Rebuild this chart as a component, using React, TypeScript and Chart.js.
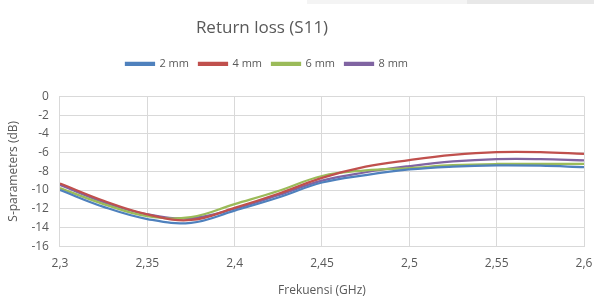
import React, { useEffect, useRef } from "react";
import { Chart, registerables } from "chart.js";

Chart.register(...registerables);

const freqs = [2.3, 2.325, 2.35, 2.375, 2.4, 2.425, 2.45, 2.475, 2.5, 2.525, 2.55, 2.575, 2.6];
const s2mm = [-10.0, -11.8, -13.1, -13.5, -12.2, -10.8, -9.2, -8.4, -7.8, -7.5, -7.37, -7.4, -7.55];
const s4mm = [-9.3, -11.15, -12.6, -13.2, -11.9, -10.4, -8.7, -7.5, -6.8, -6.25, -5.95, -5.95, -6.14];
const s6mm = [-9.8, -11.5, -12.8, -12.9, -11.5, -10.1, -8.5, -7.9, -7.65, -7.35, -7.22, -7.2, -7.22];
const s8mm = [-9.45, -11.3, -12.6, -13.0, -12.0, -10.55, -9.0, -8.1, -7.45, -6.95, -6.7, -6.7, -6.84];
const seriesLabels = ["2 mm", "4 mm", "6 mm", "8 mm"];
const seriesColors = ["#4F81BD", "#C0504D", "#9BBB59", "#8064A2"];

const FONT = "'Open Sans', 'Liberation Sans', sans-serif";
const TEXT = "#595959";

const headerLayout = {
  id: "headerLayout",
  beforeInit(chart: any) {
    const legend = chart.legend;
    if (!legend) return;
    const origFit = legend.fit;
    legend.fit = function () {
      origFit.call(this);
      this.height += 17;
    };
  },
  afterLayout(chart: any) {
    const t = chart.titleBlock;
    if (t) {
      t.left -= 33;
      t.right -= 33;
    }
    const l = chart.legend;
    if (l) {
      l.left -= 28;
      l.right -= 28;
    }
  },
};

export default function App() {
  const ref = useRef<HTMLCanvasElement | null>(null);
  useEffect(() => {
    if (!ref.current) return;
    const all = [s2mm, s4mm, s6mm, s8mm];
    const chart = new Chart(ref.current, {
      type: "line",
      data: {
        datasets: all.map((arr, i) => ({
          label: seriesLabels[i],
          data: arr.map((v, j) => ({ x: freqs[j], y: v })),
          borderColor: seriesColors[i],
          backgroundColor: seriesColors[i],
          borderWidth: 2.25,
          pointRadius: 0,
          tension: 0.4,
          fill: false,
        })),
      },
      plugins: [headerLayout],
      options: {
        responsive: false,
        animation: false,
        layout: { padding: { left: 6, right: 10, top: 14, bottom: 0 } },
        plugins: {
          title: {
            display: true,
            text: "Return loss (S11)",
            color: TEXT,
            font: { family: FONT, size: 17, weight: "normal" },
            padding: { top: 4, bottom: 10 },
          },
          legend: {
            position: "top",
            labels: {
              color: TEXT,
              font: { family: FONT, size: 11 },
              boxWidth: 28,
              boxHeight: 2,
              padding: 10,
            },
          },
          tooltip: { enabled: false },
        },
        scales: {
          x: {
            type: "linear",
            min: 2.3,
            max: 2.6,
            afterFit(scale: any) {
              scale.paddingRight = 0;
            },
            ticks: {
              stepSize: 0.05,
              color: TEXT,
              font: { family: FONT, size: 12 },
              callback: (v: any) => String(Math.round(Number(v) * 100) / 100).replace(".", ","),
              padding: 10,
            },
            grid: { color: "#d9d9d9", drawTicks: false },
            border: { color: "#d9d9d9" },
            title: {
              display: true,
              text: "Frekuensi (GHz)",
              color: TEXT,
              font: { family: FONT, size: 12 },
              padding: { top: 3, bottom: 0 },
            },
          },
          y: {
            min: -16,
            max: 0,
            ticks: {
              stepSize: 2,
              color: TEXT,
              font: { family: FONT, size: 12 },
              padding: 11,
            },
            grid: { color: "#d9d9d9", drawTicks: false },
            border: { color: "#d9d9d9" },
            title: {
              display: true,
              text: "S-parameters (dB)",
              color: TEXT,
              font: { family: FONT, size: 12 },
              padding: { top: 0, bottom: 0 },
            },
          },
        },
      },
    });
    return () => chart.destroy();
  }, []);
  return (
    <div style={{ position: "fixed", left: 0, top: 0, width: 594, height: 298, background: "#fff" }}>
      <div style={{ position: "absolute", left: 307, top: 0, width: 160, height: 4, background: "#f4f4f4" }} />
      <div style={{ position: "absolute", left: 467, top: 0, width: 127, height: 4, background: "#e8e8e8" }} />
      <canvas ref={ref} width={594} height={298} style={{ position: "absolute", left: 0, top: 0 }} />
    </div>
  );
}
